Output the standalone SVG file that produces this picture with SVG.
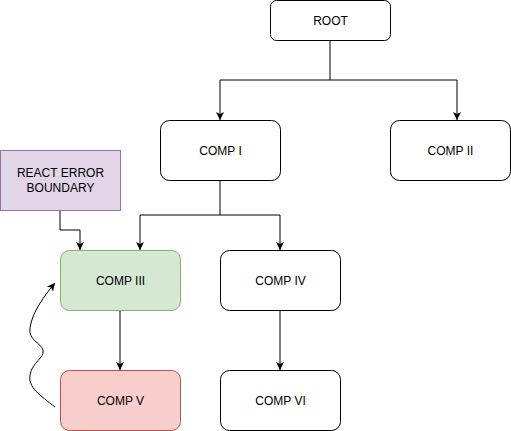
<svg xmlns="http://www.w3.org/2000/svg" width="511" height="431" viewBox="0 0 511 431">
<style>
.box{fill:#ffffff;stroke:#000000;stroke-width:1}
.green{fill:#d5e8d4;stroke:#82b366}
.red{fill:#f8cecc;stroke:#b85450}
.purple{fill:#e1d5e7;stroke:#9673a6}
.lbl{font-family:"Liberation Sans",Arial,sans-serif;font-size:12px;fill:#000000;text-anchor:middle;dominant-baseline:central}
.edge{fill:none;stroke:#000000;stroke-width:1}
</style>
<defs>
<marker id="arr" viewBox="0 0 10 10" refX="10" refY="5" markerWidth="8" markerHeight="8" markerUnits="userSpaceOnUse" orient="auto">
<path d="M0,0 L10,5 L0,10 L2.5,5 Z" fill="#000000"/>
</marker>
</defs>
<rect width="511" height="431" fill="#ffffff"/>
<g id="connectors">
<path class="edge" d="M330,40 V80 H220 V120" marker-end="url(#arr)"/>
<path class="edge" d="M330,80 H457 V120" marker-end="url(#arr)"/>
<path class="edge" d="M220,180 V215 H140 V250" marker-end="url(#arr)"/>
<path class="edge" d="M220,215 H280 V250" marker-end="url(#arr)"/>
<path class="edge" d="M60,210 V230 H80 V250" marker-end="url(#arr)"/>
<path class="edge" d="M120,310 V370" marker-end="url(#arr)"/>
<path class="edge" d="M280,310 V370" marker-end="url(#arr)"/>
<path class="edge" d="M55,407 C40,395 28,388 30,375 C32,362 45,358 43,350 C41,343 28,340 30,328 C32,312 45,295 55,283" marker-end="url(#arr)"/>
</g>
<g id="root"><rect class="box" x="270.5" y="0.5" width="120" height="40" rx="6"/><text class="lbl" x="330.5" y="20.5">ROOT</text></g>
<g id="comp1"><rect class="box" x="160.5" y="120.5" width="120" height="60" rx="9"/><text class="lbl" x="220.5" y="150.5">COMP I</text></g>
<g id="comp2"><rect class="box" x="390.5" y="120.5" width="120" height="60" rx="9"/><text class="lbl" x="450.5" y="150.5">COMP II</text></g>
<g id="reb"><rect class="purple" x="0.5" y="150.5" width="120" height="60"/><text class="lbl" x="60.5" y="173">REACT ERROR</text><text class="lbl" x="60.5" y="188">BOUNDARY</text></g>
<g id="comp3"><rect class="green" x="60.5" y="250.5" width="120" height="60" rx="9"/><text class="lbl" x="120.5" y="280.5">COMP III</text></g>
<g id="comp4"><rect class="box" x="220.5" y="250.5" width="120" height="60" rx="9"/><text class="lbl" x="280.5" y="280.5">COMP IV</text></g>
<g id="comp5"><rect class="red" x="60.5" y="370.5" width="120" height="60" rx="9"/><text class="lbl" x="120.5" y="400.5">COMP V</text></g>
<g id="comp6"><rect class="box" x="220.5" y="370.5" width="120" height="60" rx="9"/><text class="lbl" x="280.5" y="400.5">COMP VI</text></g>
</svg>
